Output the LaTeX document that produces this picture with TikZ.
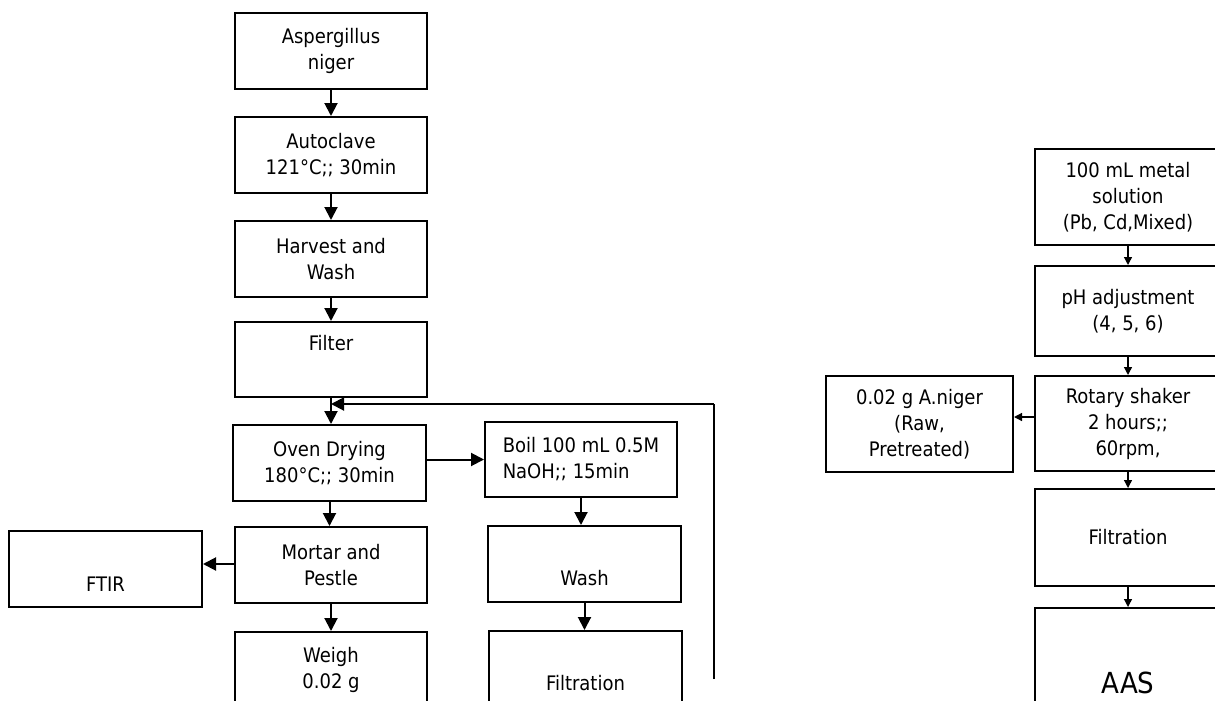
\documentclass[tikz,border=0pt]{standalone}
\usepackage{fontspec}
\setmainfont{DejaVu Sans Condensed}
\usetikzlibrary{positioning,arrows.meta}
\tikzset{
    % Stile per i passi (rettangolo)
    stepbox/.style={draw, rectangle, align=center, line width=2pt,
                    minimum width=192pt, minimum height=76pt,
                    inner sep=0pt, font=\fontsize{20}{26}\selectfont},
    % Stile per le frecce spesse
    flowarrow/.style={-{Triangle[length=13pt,width=13pt]}, line width=2pt},
    % Stile per le frecce sottili
    thinarrow/.style={-{Triangle[length=8pt,width=8pt]}, line width=1.3pt}
}

\begin{document}
\begin{tikzpicture}[x=1pt,y=-1pt]
    \useasboundingbox (0,0) rectangle (1215,701);
    \clip (0,0) rectangle (1215,701);

    % Biomass preparation
    \node[stepbox] (asp) at (331,51) {Aspergillus\\niger};
    \node[stepbox] (auto) at (331,155) {Autoclave\\121°C;; 30min};
    \node[stepbox] (harv) at (331,259) {Harvest and\\Wash};
    \node[stepbox, minimum height=75pt] (filt) at (331,359.5) {Filter\\\strut};
    \node[stepbox, minimum width=193pt] (oven) at (329.5,463) {Oven Drying\\180°C;; 30min};
    \node[stepbox] (mort) at (331,565) {Mortar and\\Pestle};
    \node[stepbox] (weigh) at (331,670) {Weigh\\0.02 g};
    \node[stepbox, minimum width=193pt] (ftir) at (105.5,569) {\strut\\FTIR};

    % Pretreatment branch
    \node[stepbox, minimum height=75pt, align=left] (boil) at (581,459.5) {Boil 100 mL 0.5M\\NaOH;; 15min};
    \node[stepbox, minimum width=193pt] (wash) at (584.5,564) {\strut\\Wash};
    \node[stepbox, minimum width=193pt] (filtr) at (585.5,669) {\strut\\Filtration};

    % Biosorption
    \node[stepbox, minimum width=186pt, minimum height=96pt] (metal) at (1128,197) {100 mL metal\\solution\\(Pb, Cd,Mixed)};
    \node[stepbox, minimum width=186pt, minimum height=90pt] (ph) at (1128,311) {pH adjustment\\(4, 5, 6)};
    \node[stepbox, minimum width=186pt, minimum height=95pt] (rot) at (1128,423.5) {Rotary shaker\\2 hours;;\\60rpm,};
    \node[stepbox, minimum width=187pt, minimum height=96pt] (aniger) at (919.5,424) {0.02 g A.niger\\(Raw,\\Pretreated)};
    \node[stepbox, minimum width=186pt, minimum height=97pt] (filtr2) at (1128,537.5) {Filtration};
    \node[stepbox, minimum width=186pt, minimum height=97pt,
          font=\fontsize{29}{44}\selectfont] (aas) at (1128,656.5) {\strut\\AAS};

    % Arrows, left column
    \draw[flowarrow] (asp.south) -- (asp.south |- auto.north);
    \draw[flowarrow] (auto.south) -- (auto.south |- harv.north);
    \draw[flowarrow] (harv.south) -- (harv.south |- filt.north);
    \draw[flowarrow] (filt.south) -- (filt.south |- oven.north);
    \draw[flowarrow] (oven.south) -- (oven.south |- mort.north);
    \draw[flowarrow] (mort.south) -- (mort.south |- weigh.north);
    \draw[flowarrow] (mort.west |- 0,564) -- (ftir.east |- 0,564);

    % Arrows, pretreatment
    \draw[flowarrow] (boil.west -| oven.east) -- (boil.west);
    \draw[flowarrow] (boil.south) -- (boil.south |- wash.north);
    \draw[flowarrow] (wash.south) -- (wash.south |- filtr.north);

    % Return line
    \coordinate (loopbot) at (714,679);
    \coordinate (looptop) at (714,404);
    \draw[line width=2.6pt] (loopbot) -- (looptop);
    \draw[flowarrow] (looptop) -- (looptop -| filt.south);

    % Arrows, right column
    \draw[thinarrow] (metal.south) -- (metal.south |- ph.north);
    \draw[thinarrow] (ph.south) -- (ph.south |- rot.north);
    \draw[thinarrow] (rot.south) -- (rot.south |- filtr2.north);
    \draw[thinarrow] (filtr2.south) -- (filtr2.south |- aas.north);
    \draw[thinarrow] (rot.west |- 0,417) -- (aniger.east |- 0,417);
\end{tikzpicture}
\end{document}
